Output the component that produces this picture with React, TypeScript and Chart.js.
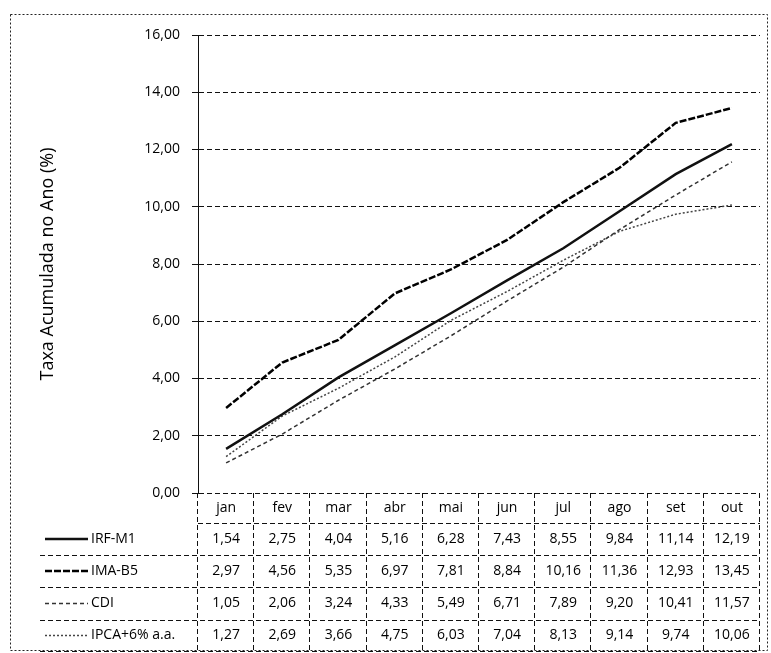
import React, { useEffect, useRef } from "react";
import { Chart, registerables } from "chart.js";

Chart.register(...registerables);

const categories = ["jan", "fev", "mar", "abr", "mai", "jun", "jul", "ago", "set", "out"];
const irfM1 = [1.54, 2.75, 4.04, 5.16, 6.28, 7.43, 8.55, 9.84, 11.14, 12.19];
const imaB5 = [2.97, 4.56, 5.35, 6.97, 7.81, 8.84, 10.16, 11.36, 12.93, 13.45];
const cdi = [1.05, 2.06, 3.24, 4.33, 5.49, 6.71, 7.89, 9.2, 10.41, 11.57];
const ipca6 = [1.27, 2.69, 3.66, 4.75, 6.03, 7.04, 8.13, 9.14, 9.74, 10.06];
const seriesNames = ["IRF-M1", "IMA-B5", "CDI", "IPCA+6% a.a."];
const yMin = 0;
const yMax = 16;
const yStep = 2;
const yTitle = "Taxa Acumulada no Ano (%)";

const FONT = "'Open Sans', 'DejaVu Sans', sans-serif";
const fmt = (v: number) => v.toFixed(2).replace(".", ",");

const tablePlugin = {
  id: "dataTable",
  afterDraw(chart: any) {
    const ctx = chart.ctx as CanvasRenderingContext2D;
    const xs = chart.scales.x;
    const area = chart.chartArea;
    const n = categories.length;
    const colW = (area.right - area.left) / n;
    const top = area.bottom;
    const rowTops = [top, top + 30, top + 62, top + 94, top + 127, top + 158];
    const tableLeft = 40;
    ctx.save();
    // outer border
    ctx.strokeStyle = "#222";
    ctx.lineWidth = 1;
    ctx.setLineDash([2, 2]);
    ctx.strokeRect(10.5, 14.5, 757, 636);
    // table lines
    ctx.setLineDash([5, 3]);
    ctx.strokeStyle = "#111";
    ctx.beginPath();
    ctx.moveTo(area.left, rowTops[1] + 0.5);
    ctx.lineTo(area.right, rowTops[1] + 0.5);
    for (let r = 2; r < rowTops.length; r++) {
      ctx.moveTo(tableLeft, rowTops[r] + 0.5);
      ctx.lineTo(area.right, rowTops[r] + 0.5);
    }
    for (let c = 0; c <= n; c++) {
      const x = Math.round(area.left + c * colW) - 0.5;
      ctx.moveTo(x, top);
      ctx.lineTo(x, rowTops[rowTops.length - 1]);
    }
    ctx.stroke();
    // header labels
    ctx.setLineDash([]);
    ctx.fillStyle = "#000";
    ctx.font = `14px ${FONT}`;
    ctx.textAlign = "center";
    ctx.textBaseline = "middle";
    categories.forEach((c, i) => {
      ctx.fillText(c, xs.getPixelForValue(i), (rowTops[0] + rowTops[1]) / 2);
    });
    // rows
    chart.data.datasets.forEach((ds: any, r: number) => {
      const yMid = (rowTops[r + 1] + rowTops[r + 2]) / 2;
      ctx.textAlign = "center";
      ds.data.forEach((v: number, i: number) => {
        ctx.fillText(fmt(v), xs.getPixelForValue(i), yMid);
      });
      // legend key
      ctx.save();
      ctx.strokeStyle = ds.borderColor;
      ctx.lineWidth = ds.borderWidth;
      ctx.setLineDash(ds.borderDash || []);
      ctx.beginPath();
      ctx.moveTo(45, yMid);
      ctx.lineTo(88, yMid);
      ctx.stroke();
      ctx.restore();
      ctx.textAlign = "left";
      ctx.fillText(ds.label, 91, yMid);
    });
    ctx.restore();
  },
};

export default function App() {
  const ref = useRef<HTMLCanvasElement | null>(null);
  useEffect(() => {
    if (!ref.current) return;
    const chart = new Chart(ref.current, {
      type: "line",
      data: {
        labels: categories,
        datasets: [
          { label: seriesNames[0], data: irfM1, borderColor: "#111", borderWidth: 2.5, borderDash: [], pointRadius: 0, tension: 0 },
          { label: seriesNames[1], data: imaB5, borderColor: "#000", borderWidth: 2.5, borderDash: [7, 2], pointRadius: 0, tension: 0 },
          { label: seriesNames[2], data: cdi, borderColor: "#333", borderWidth: 1.5, borderDash: [4, 3], pointRadius: 0, tension: 0 },
          { label: seriesNames[3], data: ipca6, borderColor: "#444", borderWidth: 1.5, borderDash: [2, 2], pointRadius: 0, tension: 0 },
        ],
      } as any,
      options: {
        responsive: false,
        animation: false,
        layout: { padding: { left: 10, right: 11, top: 35, bottom: 160 } },
        plugins: { legend: { display: false }, tooltip: { enabled: false } },
        scales: {
          x: { display: false, offset: true },
          y: {
            min: yMin,
            max: yMax,
            ticks: {
              stepSize: yStep,
              color: "#000",
              font: { family: FONT, size: 14 },
              padding: 12,
              callback: (v: any) => fmt(Number(v)),
            },
            grid: { color: "#111", tickLength: 6, lineWidth: 1 },
            border: { display: true, color: "#111", dash: [5, 3] },
            title: {
              display: true,
              text: yTitle,
              color: "#000",
              font: { family: FONT, size: 18 },
              padding: { top: 27, bottom: 0 },
            },
            afterFit: (s: any) => {
              s.width = 188;
            },
          } as any,
        },
      } as any,
      plugins: [tablePlugin],
    });
    return () => chart.destroy();
  }, []);
  return (
    <div style={{ position: "fixed", left: 0, top: 0, width: 771, height: 653, background: "#fff" }}>
      <canvas ref={ref} width={771} height={653} style={{ display: "block", width: 771, height: 653 }} />
    </div>
  );
}
